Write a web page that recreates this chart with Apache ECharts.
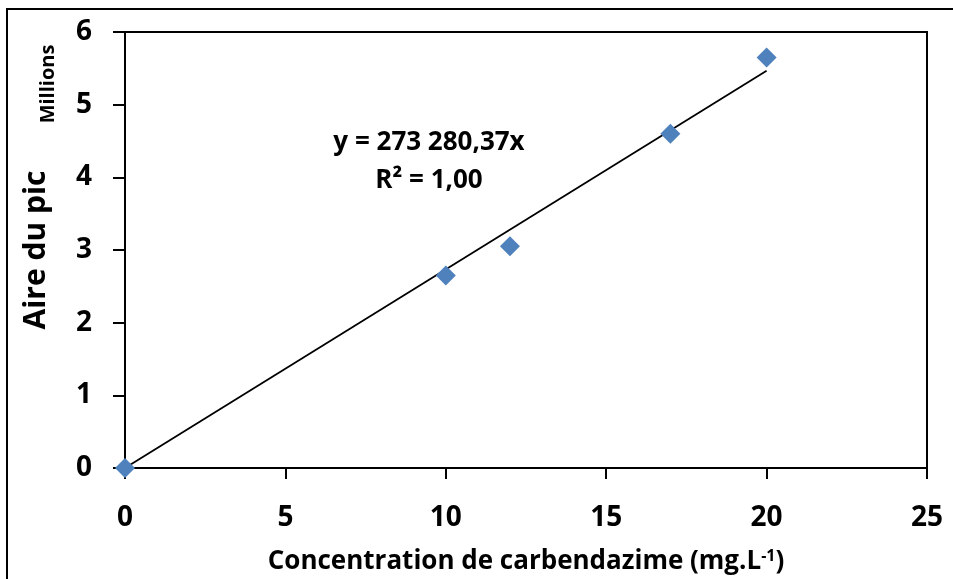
<!DOCTYPE html>
<html>
<head>
<meta charset="utf-8">
<script src="https://cdn.jsdelivr.net/npm/echarts@6/dist/echarts.min.js"></script>
<style>
  html, body { margin: 0; padding: 0; background: #fff; }
  #chart { width: 953px; height: 579px; }
</style>
</head>
<body>
<div id="chart"></div>
<script>
// Calibration data: carbendazime concentration (mg/L) vs. peak area
const concentrations = [0, 10, 12, 17, 20];
const peakAreas = [0, 2650000, 3050000, 4600000, 5650000];
const xTicks = [0, 5, 10, 15, 20, 25];
const yTicks = [0, 1, 2, 3, 4, 5, 6]; // in millions

// Linear fit through origin
const slope = 273280.37;
const fitRange = [0, 20];

const FONT = '"Open Sans"';
const chart = echarts.init(document.getElementById('chart'));

const points = concentrations.map((c, i) => [c, peakAreas[i]]);
const fitLine = fitRange.map(c => [c, slope * c]);

chart.setOption({
  animation: false,
  backgroundColor: '#fff',
  grid: { left: 125, top: 32, right: 26, bottom: 111, containLabel: false, outerBoundsMode: 'none' },
  xAxis: {
    type: 'value',
    min: xTicks[0], max: xTicks[xTicks.length - 1], interval: xTicks[1] - xTicks[0],
    axisLine: { show: true, lineStyle: { color: '#000', width: 2 } },
    axisTick: { show: true, inside: false, length: 11, lineStyle: { color: '#000', width: 2 } },
    splitLine: { show: false },
    axisLabel: { margin: 36, color: '#000', fontFamily: FONT, fontWeight: 'bold', fontSize: 28 },
    name: '{t|Concentration de carbendazime (mg.L}{s|-1}{t|)}',
    nameLocation: 'middle',
    nameGap: 80,
    nameTextStyle: {
      rich: {
        t: { fontFamily: FONT, fontWeight: 'bold', fontSize: 26, color: '#000' },
        s: { fontFamily: FONT, fontWeight: 'bold', fontSize: 16, color: '#000', verticalAlign: 'top', padding: [0, 0, 12, 0] }
      }
    }
  },
  yAxis: {
    type: 'value',
    min: yTicks[0] * 1e6, max: yTicks[yTicks.length - 1] * 1e6, interval: 1e6,
    axisLine: { show: true, lineStyle: { color: '#000', width: 2 } },
    axisTick: { show: true, inside: false, length: 12, lineStyle: { color: '#000', width: 2 } },
    splitLine: { show: false },
    axisLabel: {
      margin: 33, color: '#000', fontFamily: FONT, fontWeight: 'bold', fontSize: 28,
      formatter: v => String(Math.round(v / 1e6))
    },
    name: 'Aire du pic',
    nameLocation: 'middle',
    nameGap: 74,
    nameTextStyle: { fontFamily: FONT, fontWeight: 'bold', fontSize: 30, color: '#000' }
  },
  graphic: [
    {
      type: 'rect', silent: true,
      shape: { x: 7, y: 9, width: 1000, height: 700 },
      style: { fill: 'none', stroke: '#000', lineWidth: 2 }
    },
    {
      type: 'line', silent: true,
      shape: { x1: 927, y1: 32, x2: 927, y2: 468 },
      style: { stroke: '#000', lineWidth: 2 }
    },
    {
      type: 'line', silent: true,
      shape: { x1: 125, y1: 32, x2: 928, y2: 32 },
      style: { stroke: '#000', lineWidth: 2 }
    },
    {
      type: 'text', silent: true,
      x: 48, y: 84, rotation: Math.PI / 2,
      style: { text: 'Millions', fontFamily: FONT, fontWeight: 'bold', fontSize: 20, fill: '#000', align: 'center', verticalAlign: 'middle' }
    },
    {
      type: 'text', silent: true,
      x: 429, y: 143,
      style: { text: 'y = 273 280,37x', fontFamily: FONT, fontWeight: 'bold', fontSize: 26, fill: '#000', align: 'center', verticalAlign: 'middle' }
    },
    {
      type: 'text', silent: true,
      x: 429, y: 181,
      style: { text: 'R² = 1,00', fontFamily: FONT, fontWeight: 'bold', fontSize: 26, fill: '#000', align: 'center', verticalAlign: 'middle' }
    }
  ],
  series: [
    {
      type: 'line',
      data: fitLine,
      symbol: 'none',
      lineStyle: { color: '#000', width: 1.8 },
      z: 2
    },
    {
      type: 'scatter',
      data: points,
      symbol: 'diamond',
      symbolSize: [20, 20],
      itemStyle: { color: '#4F81BD', opacity: 1 },
      z: 3
    }
  ]
});
</script>
</body>
</html>
